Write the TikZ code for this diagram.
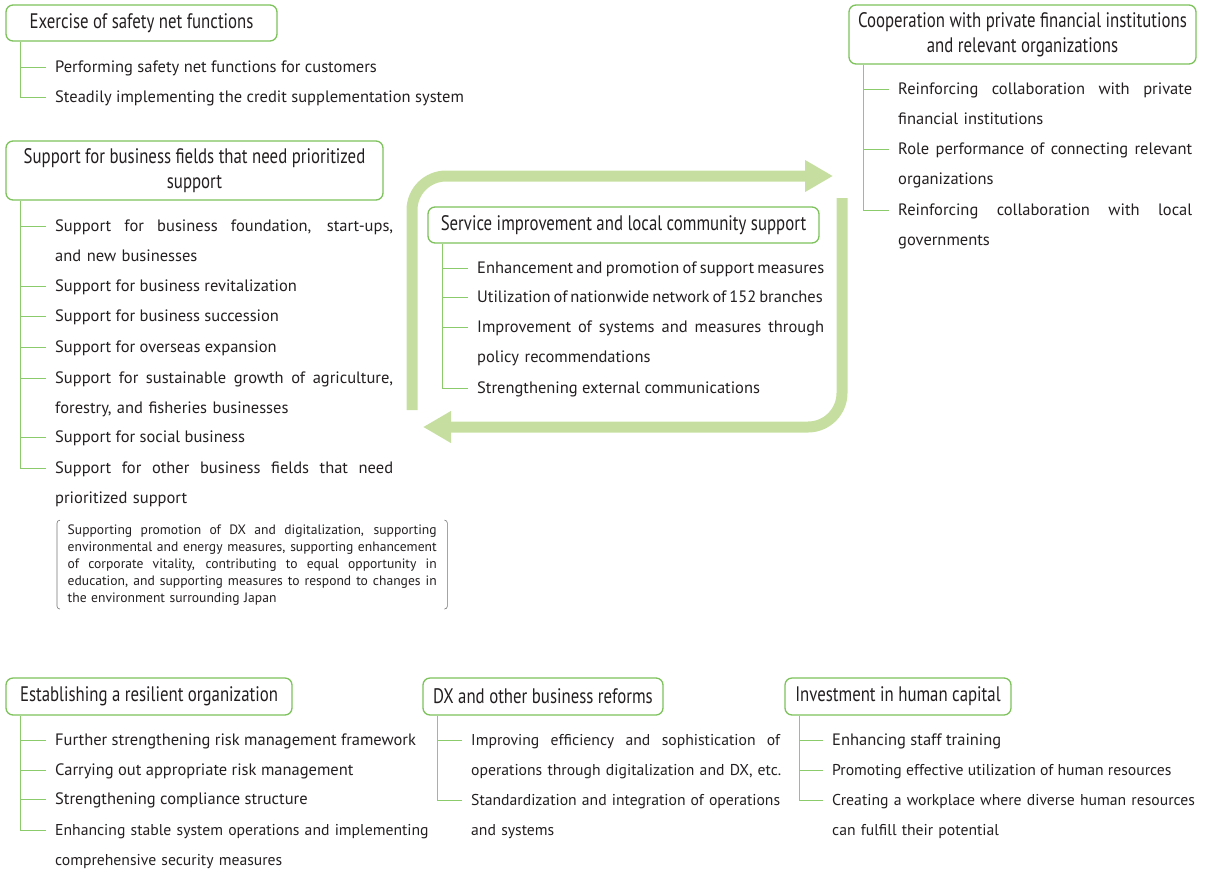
\documentclass[tikz,border=0pt]{standalone}
\usepackage{fontspec}
\setmainfont{PT Sans}
\newfontfamily\headfont[FakeStretch=0.8]{PT Sans}
\usetikzlibrary{arrows.meta, calc}

\definecolor{BoxGreen}{HTML}{7DC25A}
\definecolor{TreeGreen}{HTML}{8CCB6C}
\definecolor{CycleGreen}{HTML}{C6DFA0}
\definecolor{TextGray}{HTML}{231F20}

\newcommand\JustLine[2]{\makebox[#1][s]{\spaceskip=\fontdimen2\font plus 1fil minus \fontdimen4\font\relax #2}}		%line spread out to the given width

\begin{document}
\begin{tikzpicture}
	[x=1pt, y=-1pt,																%one unit = one pixel of the layout, y runs downwards
	 HeadBox/.style={draw=BoxGreen, line width=1.3pt, rounded corners=7pt, inner sep=0pt, align=center, text=TextGray, font=\headfont\fontsize{21}{25}\selectfont},
	 Item/.style={anchor=base west, inner sep=0pt, text=TextGray, font=\fontsize{16.5}{30}\selectfont},
	 ItemPar/.style={Item, text width=440pt, align=left},						%item over two lines
	 Narrow/.style={font=\fontsize{15.7}{30}\selectfont},						%for the longest lines
	 TreeLine/.style={draw=TreeGreen, line width=1pt},
	 CycleArrow/.style={draw=CycleGreen, line width=11pt, rounded corners=34pt, -{Triangle[length=28pt, width=30pt]}},
	 Bracket/.style={draw=black!55, line width=0.6pt, rounded corners=3pt}
	]
	
	\def\Branch{9pt};		%gap between a branch and its text
	\def\Trunk{15pt};		%distance of the trunk from the left side of its box
	
	\useasboundingbox (0,0) rectangle (1210,871);
	
	%Cycle arrows in the middle
	\coordinate (CycA) at (412,410);
	\coordinate (CycB) at (833,176);
	\coordinate (CycC) at (842,198);
	\coordinate (CycD) at (423,427);
	\draw[CycleArrow] (CycA) |- (CycB);
	\draw[CycleArrow] (CycC) |- (CycD);
	
	%Exercise of safety net functions
	\node[HeadBox, minimum width=271pt, minimum height=36pt] (Safety) at (141.5,23) {Exercise of safety net functions};
	\node[Item] (Safety1) at (55,72) {Performing safety net functions for customers};
	\node[Item] (Safety2) at (55,102) {Steadily implementing the credit supplementation system};
	
	%Support for prioritized fields
	\node[HeadBox, minimum width=377pt, minimum height=59pt] (Prior) at (194.5,170.5) {Support for business fields that need prioritized\\support};
	\node[ItemPar] (Prior1) at (55,231) {\JustLine{338pt}{Support for business foundation, start-ups,}\\and new businesses};
	\node[Item] (Prior2) at (55,291) {Support for business revitalization};
	\node[Item] (Prior3) at (55,321) {Support for business succession};
	\node[Item] (Prior4) at (55,352) {Support for overseas expansion};
	\node[ItemPar] (Prior5) at (55,383) {\JustLine{338pt}{Support for sustainable growth of agriculture,}\\forestry, and fisheries businesses};
	\node[Item] (Prior6) at (55,442) {Support for social business};
	\node[ItemPar] (Prior7) at (55,473) {\JustLine{338pt}{Support for other business fields that need}\\prioritized support};
	
	\node[anchor=base west, inner xsep=10.5pt, inner ysep=4pt, text width=369pt, align=left, text=TextGray, font=\fontsize{13.6}{17}\selectfont] (Note) at (57,534)
		{\JustLine{369pt}{Supporting promotion of DX and digitalization, supporting}\\
		 \JustLine{369pt}{environmental and energy measures, supporting enhancement}\\
		 \JustLine{369pt}{of corporate vitality, contributing to equal opportunity in}\\
		 \JustLine{369pt}{education, and supporting measures to respond to changes in}\\
		 the environment surrounding Japan};
	\draw[Bracket] ([xshift=3pt]Note.north west) -| (Note.south west) -- ++(3pt,0);
	\draw[Bracket] ([xshift=-3pt]Note.north east) -| (Note.south east) -- ++(-3pt,0);
	
	%Service improvement
	\node[HeadBox, minimum width=391pt, minimum height=36pt] (Service) at (623.5,225) {Service improvement and local community support};
	\node[Item] (Service1) at (477,273) {\JustLine{347pt}{Enhancement and promotion of support measures}};
	\node[Item] (Service2) at (477,302) {\JustLine{345pt}{Utilization of nationwide network of 152 branches}};
	\node[ItemPar] (Service3) at (477,332) {\JustLine{347pt}{Improvement of systems and measures through}\\policy recommendations};
	\node[Item] (Service4) at (477,393) {Strengthening external communications};
	
	%Cooperation
	\node[HeadBox, minimum width=347pt, minimum height=59pt] (Coop) at (1022.5,34.5) {Cooperation with private financial institutions\\and relevant organizations};
	\node[ItemPar] (Coop1) at (898,94) {\JustLine{294pt}{Reinforcing collaboration with private}\\financial institutions};
	\node[ItemPar] (Coop2) at (898,154) {\JustLine{294pt}{Role performance of connecting relevant}\\organizations};
	\node[ItemPar] (Coop3) at (898,215) {\JustLine{294pt}{Reinforcing collaboration with local}\\governments};
	
	%Resilient organization
	\node[HeadBox, minimum width=286pt, minimum height=37pt] (Resil) at (149,696.5) {Establishing a resilient organization};
	\node[Item] (Resil1) at (55,745) {Further strengthening risk management framework};
	\node[Item] (Resil2) at (55,775) {Carrying out appropriate risk management};
	\node[Item] (Resil3) at (55,804) {Strengthening compliance structure};
	\node[ItemPar, Narrow] (Resil4) at (55,835) {Enhancing stable system operations and implementing\\comprehensive security measures};
	
	%DX
	\node[HeadBox, minimum width=240pt, minimum height=37pt] (DX) at (543,696.5) {DX and other business reforms};
	\node[ItemPar, Narrow] (DX1) at (471,745) {\JustLine{309pt}{Improving efficiency and sophistication of}\\operations through digitalization and DX, etc.};
	\node[ItemPar, Narrow] (DX2) at (471,805) {\JustLine{309pt}{Standardization and integration of operations}\\and systems};
	
	%Human capital
	\node[HeadBox, minimum width=226pt, minimum height=37pt] (Human) at (898,696.5) {Investment in human capital};
	\node[Item] (Human1) at (832,745) {Enhancing staff training};
	\node[Item, Narrow] (Human2) at (832,775) {Promoting effective utilization of human resources};
	\node[ItemPar, Narrow] (Human3) at (832,805) {Creating a workplace where diverse human resources\\can fulfill their potential};
	
	%Trees from each box to its items
	\foreach \h/\list in {Safety/{Safety1,Safety2}, Prior/{Prior1,Prior2,Prior3,Prior4,Prior5,Prior6,Prior7},
		Service/{Service1,Service2,Service3,Service4}, Coop/{Coop1,Coop2,Coop3},
		Resil/{Resil1,Resil2,Resil3,Resil4}, DX/{DX1,DX2}, Human/{Human1,Human2,Human3}}
		\foreach \n in \list
			\draw[TreeLine] ([xshift=-\Branch, yshift=5pt]\n.base west) -| ([xshift=\Trunk]\h.south west);
	
\end{tikzpicture}
\end{document}
